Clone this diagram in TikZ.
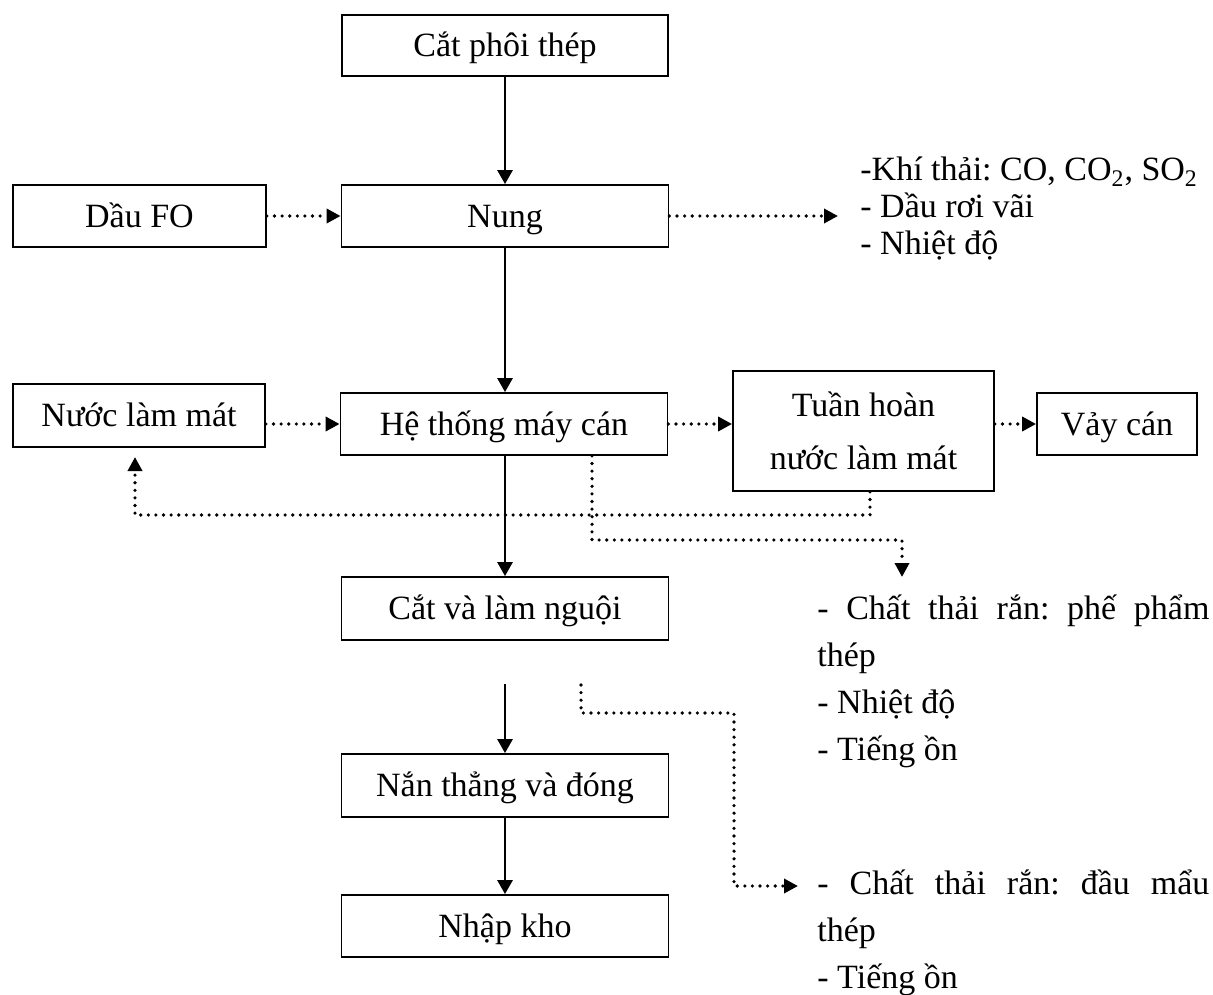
\documentclass[tikz,border=0pt]{standalone}
\usepackage{fontspec}
\setmainfont{Liberation Serif}
\usetikzlibrary{arrows.meta,calc}
\frenchspacing
\begin{document}
\begin{tikzpicture}[x=0.5pt,y=-0.5pt,
  font=\fontsize{17}{23.5}\selectfont,
  box/.style={draw,line width=0.9pt,inner sep=0pt,text height=11.3pt,text depth=0pt},
  box2/.style={draw,line width=0.9pt,inner sep=0pt,align=center},
  solidarrow/.style={line width=1.4pt,-{Triangle[length=7pt,width=7.5pt]}},
  dotline/.style={line width=1.8pt,line cap=round,dash pattern=on 0pt off 3.8pt},
  dotarrow/.style={dotline,-{Triangle[length=7pt,width=7pt]}},
  txt/.style={anchor=base west,inner sep=0pt}]
\useasboundingbox (0,0) rectangle (1213,994);

% boxes
\node[box,minimum width=163pt,minimum height=30.5pt] (cat) at (505,45.5) {Cắt phôi thép};
\node[box,minimum width=126.5pt,minimum height=31pt] (dau) at (139.5,216) {Dầu FO};
\node[box,minimum width=163.5pt,minimum height=31pt] (nung) at (505,216) {Nung};
\node[box,minimum width=126pt,minimum height=31.5pt] (nuoc) at (139,415.5) {Nước làm mát};
\node[box,minimum width=163.5pt,minimum height=31pt] (he) at (504,424) {Hệ thống máy cán};
\node[box2,minimum width=130.5pt,minimum height=60pt] (tuan) at (863.5,431) {Tuần hoàn\\[3pt]nước làm mát};
\node[box,minimum width=80pt,minimum height=31pt] (vay) at (1117,424) {Vảy cán};
\node[box,minimum width=163.5pt,minimum height=31.5pt] (catlam) at (505,608.5) {Cắt và làm nguội};
\node[box,minimum width=163.5pt,minimum height=31.5pt] (nan) at (505,785.5) {Nắn thẳng và đóng};
\node[box,minimum width=163.5pt,minimum height=31pt] (nhap) at (505,926) {Nhập kho};

% text blocks
\node[txt] (k1) at (860,181) {-Khí thải: CO, CO\textsubscript{2}, SO\textsubscript{2}};
\node[txt] (k2) at (860,218) {- Dầu rơi vãi};
\node[txt] (k3) at (860,255) {- Nhiệt độ};

\node[txt] (r1) at (817,619) {\makebox[196pt][s]{- Chất thải rắn: phế phẩm}};
\node[txt] (r2) at (817,666) {thép};
\node[txt] (r3) at (817,713) {- Nhiệt độ};
\node[txt] (r4) at (817,760) {- Tiếng ồn};

\node[txt] (s1) at (817,894) {\makebox[196pt][s]{- Chất thải rắn: đầu mẩu}};
\node[txt] (s2) at (817,941) {thép};
\node[txt] (s3) at (817,988) {- Tiếng ồn};

% coordinates
\coordinate (nungout) at (838,216);
\coordinate (l1) at (870,515);
\coordinate (l2) at (135,515);
\coordinate (l3) at (135,457);
\coordinate (m1) at (592,540);
\coordinate (m2) at (902,540);
\coordinate (m3) at (902,577);
\coordinate (a0) at (505,684);
\coordinate (d0) at (581,685);
\coordinate (d1) at (581,713);
\coordinate (d2) at (734,713);
\coordinate (d3) at (734,886);
\coordinate (d4) at (798,886);

% solid arrows
\draw[solidarrow] (cat) -- (nung);
\draw[solidarrow] (nung.south) -- (nung.south |- he.north);
\draw[solidarrow] (he.south -| catlam.north) -- (catlam.north);
\draw[solidarrow] (a0) -- (nan.north);
\draw[solidarrow] (nan) -- (nhap);

% dotted arrows
\draw[dotarrow] (dau.east) -- (nung.west);
\draw[dotarrow] (nung.east) -- (nungout);
\draw[dotarrow] (he.west -| nuoc.east) -- (he.west);
\draw[dotarrow] (he.east) -- (he.east -| tuan.west);
\draw[dotarrow] (vay.west -| tuan.east) -- (vay.west);
\draw[dotarrow] (tuan.south -| l1) -- (l1) -- (l2) -- (l3);
\draw[dotarrow] (he.south -| m1) -- (m1) -- (m2) -- (m3);
\draw[dotarrow] (d0) -- (d1) -- (d2) -- (d3) -- (d4);
\end{tikzpicture}
\end{document}
